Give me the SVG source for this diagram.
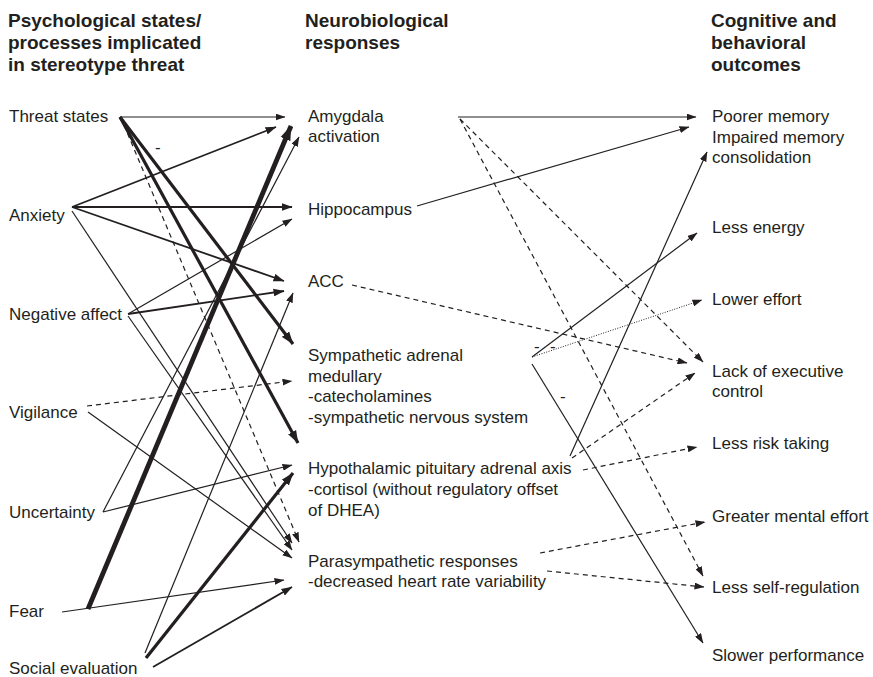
<svg xmlns="http://www.w3.org/2000/svg" width="873" height="677" viewBox="0 0 873 677">
<style>
text{font-family:"Liberation Sans",Arial,Helvetica,sans-serif;font-size:17px;fill:#231f20}
.h{font-weight:bold;font-size:19px}
#connectors path{fill:none;stroke:#231f20;stroke-linecap:butt}
.t{stroke-width:1.2;marker-end:url(#a1)}
.m{stroke-width:1.8;marker-end:url(#a2)}
.k{stroke-width:3.2;marker-end:url(#a3)}
.x{stroke-width:4.8;marker-end:url(#a4)}
.d{stroke-width:1.2;stroke-dasharray:5 4;marker-end:url(#a1)}
.o{stroke-width:1;stroke-dasharray:1 1.5;marker-end:url(#a1)}
</style>
<defs>
<marker id="a1" viewBox="0 0 10 7" refX="9.5" refY="3.5" markerWidth="10" markerHeight="7" markerUnits="userSpaceOnUse" orient="auto"><path d="M0,0L10,3.5L0,7z" fill="#231f20"/></marker>
<marker id="a2" viewBox="0 0 10 7" refX="9.5" refY="3.5" markerWidth="11" markerHeight="8" markerUnits="userSpaceOnUse" orient="auto"><path d="M0,0L10,3.5L0,7z" fill="#231f20"/></marker>
<marker id="a3" viewBox="0 0 10 7" refX="9.5" refY="3.5" markerWidth="13" markerHeight="10" markerUnits="userSpaceOnUse" orient="auto"><path d="M0,0L10,3.5L0,7z" fill="#231f20"/></marker>
<marker id="a4" viewBox="0 0 10 7" refX="9.5" refY="3.5" markerWidth="15" markerHeight="12" markerUnits="userSpaceOnUse" orient="auto"><path d="M0,0L10,3.5L0,7z" fill="#231f20"/></marker>
</defs>
<rect width="873" height="677" fill="#fff"/>

<g id="headings">
<text class="h" x="8" y="27">Psychological states/</text>
<text class="h" x="8" y="49">processes implicated</text>
<text class="h" x="8" y="71">in stereotype threat</text>
<text class="h" x="305" y="27">Neurobiological</text>
<text class="h" x="305" y="49">responses</text>
<text class="h" x="711" y="27">Cognitive and</text>
<text class="h" x="711" y="49">behavioral</text>
<text class="h" x="711" y="71">outcomes</text>
</g>

<g id="connectors">
<path class="t" d="M120,117L285,117"/>
<path class="k" d="M120,117L293,344"/>
<path class="k" d="M120,117L298,443"/>
<path class="d" d="M124,125L299,542"/>
<path class="m" d="M72,207L276,127"/>
<path class="m" d="M72,207L292,207"/>
<path class="m" d="M72,207L284,281"/>
<path class="t" d="M72,211L292,543"/>
<path class="t" d="M128,314L292,219"/>
<path class="m" d="M128,314L284,291"/>
<path class="t" d="M128,316L292,550"/>
<path class="d" d="M87,406L292,381"/>
<path class="t" d="M88,412L292,558"/>
<path class="t" d="M103,512L299,137"/>
<path class="t" d="M103,512L292,465"/>
<path class="x" d="M88,609L291,126"/>
<path class="t" d="M62,612L284,580"/>
<path class="t" d="M145,653L293,293"/>
<path class="k" d="M146,658L293,473"/>
<path class="m" d="M153,667L292,587"/>
<path class="t" d="M458,117L696,117"/>
<path class="d" d="M460,119L703,362"/>
<path class="d" d="M460,119L703,576"/>
<path class="t" d="M417,206L689,127"/>
<path class="d" d="M352,285L687,363"/>
<path class="t" d="M532,357L697,233"/>
<path class="o" d="M532,357L702,300"/>
<path class="t" d="M532,364L703,643"/>
<path class="t" d="M570,456L707,152"/>
<path class="d" d="M572,458L695,373"/>
<path class="d" d="M583,470L697,447"/>
<path class="d" d="M540,553L705,522"/>
<path class="d" d="M547,571L704,587"/>
</g>

<g id="signs">
<text x="155" y="153">-</text>
<text x="534" y="352">-</text>
<text x="550" y="352">-</text>
<text x="560" y="402">-</text>
</g>

<g id="threat"><text x="9" y="122">Threat states</text></g>
<g id="anxiety"><text x="9" y="221">Anxiety</text></g>
<g id="negative"><text x="9" y="320">Negative affect</text></g>
<g id="vigilance"><text x="9" y="418">Vigilance</text></g>
<g id="uncertainty"><text x="9" y="518">Uncertainty</text></g>
<g id="fear"><text x="9" y="617">Fear</text></g>
<g id="social"><text x="9" y="674">Social evaluation</text></g>

<g id="amygdala"><text x="308" y="122">Amygdala</text><text x="308" y="142">activation</text></g>
<g id="hippocampus"><text x="308" y="215">Hippocampus</text></g>
<g id="acc"><text x="308" y="287">ACC</text></g>
<g id="sam"><text x="308" y="361">Sympathetic adrenal</text><text x="308" y="382">medullary</text><text x="308" y="402">-catecholamines</text><text x="308" y="423">-sympathetic nervous system</text></g>
<g id="hpa"><text x="308" y="474">Hypothalamic pituitary adrenal axis</text><text x="308" y="495">-cortisol (without regulatory offset</text><text x="308" y="516">of DHEA)</text></g>
<g id="para"><text x="308" y="567">Parasympathetic responses</text><text x="308" y="587">-decreased heart rate variability</text></g>

<g id="memory"><text x="712" y="122">Poorer memory</text><text x="712" y="143">Impaired memory</text><text x="712" y="163">consolidation</text></g>
<g id="energy"><text x="712" y="233">Less energy</text></g>
<g id="effort"><text x="712" y="305">Lower effort</text></g>
<g id="exec"><text x="712" y="377">Lack of executive</text><text x="712" y="397">control</text></g>
<g id="risk"><text x="712" y="449">Less risk taking</text></g>
<g id="mental"><text x="712" y="522">Greater mental effort</text></g>
<g id="selfreg"><text x="712" y="593">Less self-regulation</text></g>
<g id="slower"><text x="712" y="661">Slower performance</text></g>
</svg>
